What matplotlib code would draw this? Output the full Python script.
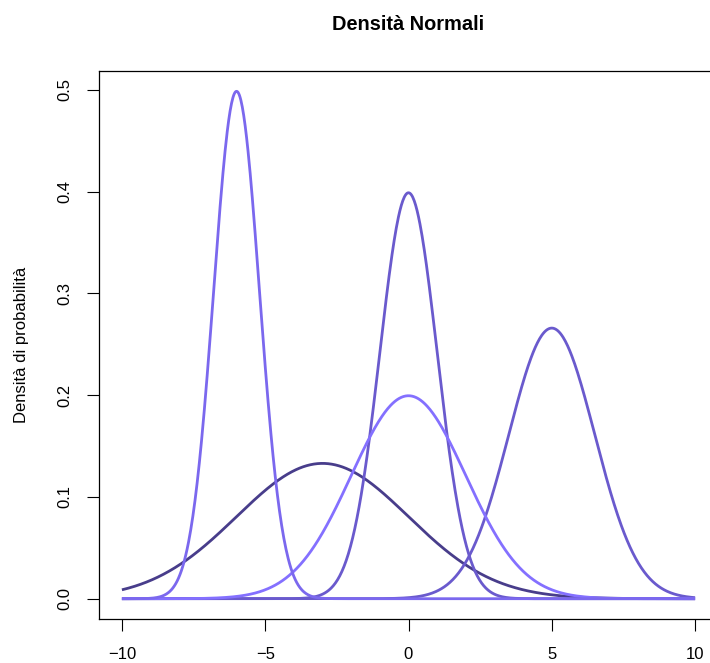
import numpy as np
import matplotlib
matplotlib.use("Agg")
import matplotlib.pyplot as plt

plt.rcParams['font.family'] = ['Liberation Sans', 'DejaVu Sans']

# parametri delle normali (media, deviazione standard)
means = [-6, 0, 5, 0, -3]
sds = [0.8, 1, 1.5, 2, 3]
colors = ['#7B68EE', '#6A5ACD', '#6A5ACD', '#8470FF', '#483D8B']
x_ticks = [-10, -5, 0, 5, 10]
y_ticks = [0.0, 0.1, 0.2, 0.3, 0.4, 0.5]

x = np.linspace(-10, 10, 801)

fig = plt.figure(figsize=(7.10, 6.63), dpi=100)
ax = fig.add_axes([99 / 710, 44 / 663, 619 / 710, 548 / 663])

order = [4, 1, 2, 3, 0]
for i in order:
    dens = np.exp(-0.5 * ((x - means[i]) / sds[i]) ** 2) / (sds[i] * np.sqrt(2 * np.pi))
    ax.plot(x, dens, color=colors[i], lw=2.0, solid_capstyle='butt')

ymax = max(1 / (s * np.sqrt(2 * np.pi)) for s in sds)
ax.set_xlim(-10 - 0.8, 10 + 0.8)
ax.set_ylim(-0.04 * ymax, ymax * 1.04)

ax.set_xticks(x_ticks)
ax.set_xticklabels([str(t).replace('-', '\u2212') for t in x_ticks])
ax.set_yticks(y_ticks)
ax.set_yticklabels(["%.1f" % t for t in y_ticks], rotation=90, va='center')
ax.tick_params(axis='both', direction='out', length=8.5, width=0.8, labelsize=12)
ax.tick_params(axis='x', pad=12)
ax.tick_params(axis='y', pad=11)
for sp in ax.spines.values():
    sp.set_linewidth(0.9)
# il bordo destro cade fuori dall'immagine
ax.spines['right'].set_visible(False)

fig.text(408 / 710, 1 - 25 / 663, "Densità Normali", ha='center', va='center',
         fontsize=14.4, fontweight='bold')
fig.text(22 / 710, 1 - 345 / 663, "Densità di probabilità", ha='center', va='center',
         rotation=90, fontsize=12)

fig.savefig("out.png", dpi=100)
